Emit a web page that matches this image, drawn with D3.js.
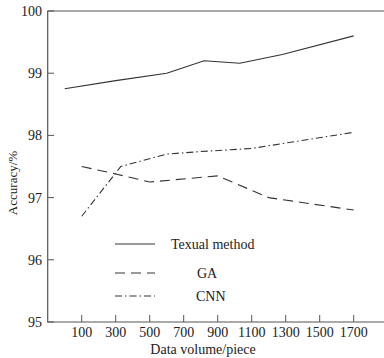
<!DOCTYPE html>
<html><head><meta charset="utf-8">
<script src="https://cdn.jsdelivr.net/npm/d3@7"></script>
<style>body{margin:0;background:#fff}svg{display:block}text{font-family:"Liberation Serif","Times New Roman",serif;fill:#222}</style>
</head><body><div id="c"></div>
<script>
const xTicks = [100,300,500,700,900,1100,1300,1500,1700];
const yTicks = [95,96,97,98,99,100];
const textualX = [0,300,600,820,1030,1280,1700];
const textualY = [98.75,98.88,99.0,99.2,99.16,99.3,99.6];
const gaX = [100,300,500,900,1200,1700];
const gaY = [97.5,97.38,97.25,97.35,97.0,96.8];
const cnnX = [100,330,600,800,1100,1700];
const cnnY = [96.7,97.5,97.7,97.74,97.79,98.05];
const seriesNames = ["Texual method","GA","CNN"];

const W=384,H=358;
const svg=d3.select("#c").append("svg").attr("width",W).attr("height",H);
const x=d3.scaleLinear().domain([-100,1900]).range([47.7,387.7]);
const y=d3.scaleLinear().domain([95,100]).range([322,11]);
const col="#333";
svg.append("path").attr("d",`M${W},11H47.7V322H${W}`).attr("fill","none").attr("stroke","#555").attr("stroke-width",1.2);
yTicks.forEach(t=>{
  svg.append("line").attr("x1",47.7).attr("x2",54).attr("y1",y(t)).attr("y2",y(t)).attr("stroke","#555");
  svg.append("text").attr("x",42).attr("y",y(t)+5).attr("text-anchor","end").attr("font-size",14).text(t);
});
xTicks.forEach(t=>{
  svg.append("line").attr("x1",x(t)).attr("x2",x(t)).attr("y1",322).attr("y2",315).attr("stroke","#555");
  svg.append("text").attr("x",x(t)).attr("y",337).attr("text-anchor","middle").attr("font-size",14).text(t);
});
svg.append("text").attr("x",203).attr("y",354).attr("text-anchor","middle").attr("font-size",14).text("Data volume/piece");
svg.append("text").attr("transform","translate(17,183) rotate(-90)").attr("text-anchor","middle").attr("font-size",13).text("Accuracy/%");

const line=d3.line().x(d=>x(d[0])).y(d=>y(d[1]));
const data=[
  {n:seriesNames[0],pts:textualX.map((v,i)=>[v,textualY[i]]),dash:null},
  {n:seriesNames[1],pts:gaX.map((v,i)=>[v,gaY[i]]),dash:"10,6"},
  {n:seriesNames[2],pts:cnnX.map((v,i)=>[v,cnnY[i]]),dash:"7,3,1.5,3"}
];
data.forEach(s=>{
  svg.append("path").attr("d",line(s.pts)).attr("fill","none").attr("stroke",col).attr("stroke-width",1.1).attr("stroke-dasharray",s.dash);
});
const ly=[244,273,296], lx=[171,197,196];
data.forEach((s,i)=>{
  svg.append("line").attr("x1",115).attr("x2",155).attr("y1",ly[i]).attr("y2",ly[i]).attr("stroke",col).attr("stroke-width",1.1).attr("stroke-dasharray",s.dash);
  svg.append("text").attr("x",lx[i]).attr("y",ly[i]+5).attr("font-size",14).text(s.n);
});
</script></body></html>
